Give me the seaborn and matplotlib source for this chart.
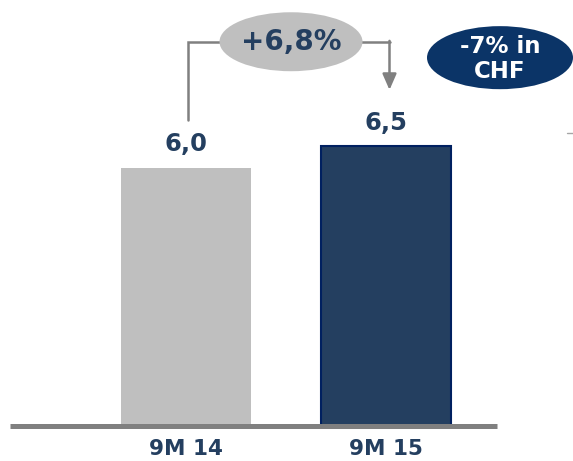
import matplotlib
matplotlib.use("Agg")
import matplotlib.pyplot as plt
import seaborn as sns
from matplotlib.patches import Ellipse

# --- Data ---
PERIODS = ["9M 14", "9M 15"]
VALUES = [6.0, 6.5]
VALUE_LABELS = ["6,0", "6,5"]
GROWTH_LABEL = "+6,8%"
CHF_LABEL = "-7% in\nCHF"

# --- Colours ---
NAVY_TEXT = "#243F60"
BAR_COLORS = ["#BFBFBF", "#243F60"]
GREY_LINE = "#808080"
BADGE_NAVY = "#0B3467"

sns.set_theme(style="white")
plt.rcParams["font.family"] = ["DejaVu Sans"]

fig = plt.figure(figsize=(5.73, 4.61), dpi=100)
ax = fig.add_axes([0, 35 / 461, 1, 1 - 35 / 461])

sns.barplot(x=PERIODS, y=VALUES, hue=PERIODS, palette=BAR_COLORS,
            legend=False, width=0.65, saturation=1, ax=ax)
ax.patches[0].set_linewidth(0)
ax.patches[1].set_edgecolor("#002060")
ax.patches[1].set_linewidth(1.5)

ax.set_xlim(-0.9275, 1.9375)
ax.set_ylim(0, 9.9)
for s in ax.spines.values():
    s.set_visible(False)
ax.set_yticks([])
ax.tick_params(axis="x", length=0, pad=9)
for lab in ax.get_xticklabels():
    lab.set_fontsize(15.5)
    lab.set_fontweight("bold")
    lab.set_color(NAVY_TEXT)

# baseline
ax.plot([-0.8775, 1.5575], [0, 0], color=GREY_LINE, lw=3.6,
        solid_capstyle="butt", clip_on=False, zorder=3)

# value labels
for i, (v, lab) in enumerate(zip(VALUES, VALUE_LABELS)):
    ax.text(i, v + 0.55, lab, ha="center", va="center", fontsize=17.5,
            fontweight="bold", color=NAVY_TEXT)

# growth bracket
y_top = 8.93
ax.plot([0.0125, 0.0125, 1.02], [7.1, y_top, y_top], color=GREY_LINE,
        lw=1.8, solid_joinstyle="miter", zorder=2)
ax.annotate("", xy=(1.02, 7.81), xytext=(1.02, y_top + 0.02),
            arrowprops=dict(arrowstyle="-|>,head_width=0.35,head_length=0.8",
                            color=GREY_LINE, lw=1.8, shrinkA=0, shrinkB=0),
            zorder=2)
ax.add_patch(Ellipse((0.5275, y_top), 0.715, 1.37, facecolor="#BFBFBF",
                     edgecolor="none", zorder=4))
ax.text(0.5275, y_top, GROWTH_LABEL, ha="center", va="center", fontsize=20,
        fontweight="bold", color=NAVY_TEXT, zorder=5)

# CHF badge
ax.add_patch(Ellipse((1.5725, 8.56), 0.73, 1.465, facecolor=BADGE_NAVY,
                     edgecolor="none", zorder=4, clip_on=False))
ax.text(1.5725, 8.53, CHF_LABEL, ha="center", va="center", fontsize=16.5,
        fontweight="bold", color="white", linespacing=1.08, zorder=5)

# small grey mark at right edge
ax.plot([1.9075, 1.9375], [6.82, 6.82], color="#A6A6A6", lw=1, clip_on=False)

fig.savefig("out.png", dpi=100)
